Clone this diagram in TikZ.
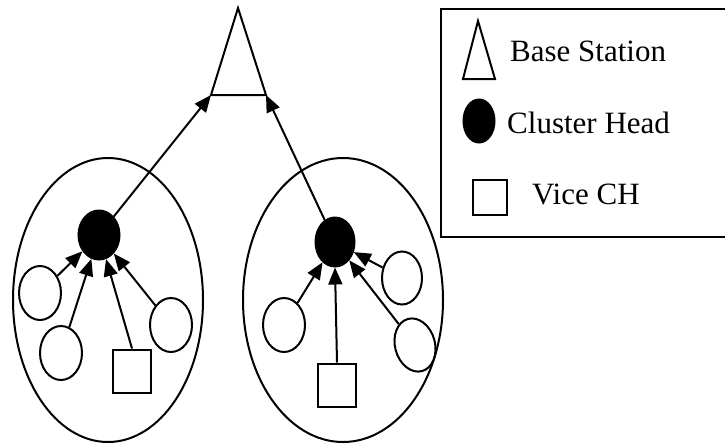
\documentclass[tikz,border=0pt]{standalone}
\usepackage{fontspec}
\setmainfont{Liberation Serif}
\usetikzlibrary{arrows.meta,shapes.geometric}
\begin{document}
\begin{tikzpicture}[x=1pt,y=-1pt,
  ln/.style={line width=2pt},
  arr/.style={ln,-{Triangle[length=17pt,width=14pt]}},
  cluster/.style={ln,draw,ellipse,inner sep=0pt},
  chnode/.style={draw,fill=black,ellipse,inner sep=0pt,line width=1pt},
  member/.style={ln,draw,ellipse,inner sep=0pt,minimum width=42pt,minimum height=54pt},
  vice/.style={ln,draw,rectangle,inner sep=0pt,minimum width=38pt,minimum height=43pt},
  lbl/.style={font=\fontsize{31}{33}\selectfont,anchor=west,inner sep=0pt}]
\useasboundingbox (0,0) rectangle (725,445);
% base station
\coordinate (bsL) at (211,95);
\coordinate (bsR) at (266,95);
\coordinate (bsT) at (238,8);
\draw[ln,line join=miter] (bsL) -- (bsT) -- (bsR) -- cycle;
% left cluster
\node[cluster,minimum width=190pt,minimum height=284pt] (c1) at (108,300) {};
\node[chnode,minimum width=42pt,minimum height=50pt] (h1) at (99,235) {};
\node[member] (a1) at (40,293) {};
\node[member] (a2) at (61,353) {};
\node[member] (a3) at (171,325) {};
\node[vice] (v1) at (132,371) {};
\draw[arr] (a1) -- (h1);
\draw[arr] (a2) -- (h1);
\draw[arr] (v1.north) -- (h1);
\draw[arr] (a3) -- (h1);
\draw[arr] (h1) -- (bsL);
% right cluster
\node[cluster,minimum width=200pt,minimum height=284pt] (c2) at (343,300) {};
\node[chnode,minimum width=40pt,minimum height=50pt] (h2) at (335,242) {};
\node[member] (b1) at (284,325) {};
\node[member,minimum width=40pt,minimum height=53pt] (b2) at (402,278) {};
\node[member,minimum width=40pt,minimum height=54pt,rotate=15] (b3) at (415,345) {};
\node[vice] (v2) at (337,385) {};
\draw[arr] (b1) -- (h2);
\draw[arr] (v2.north) -- (h2.south);
\draw[arr] (b3) -- (h2);
\draw[arr] (b2) -- (h2);
\draw[arr] (h2) -- (bsR);
% legend
\node[ln,draw,rectangle,inner sep=0pt,minimum width=288pt,minimum height=228pt,anchor=north west] (leg) at (440,8) {};
\coordinate (lgT) at (478,21);
\coordinate (lgL) at (463,79);
\coordinate (lgR) at (495,79);
\draw[ln,line join=miter] (lgL) -- (lgT) -- (lgR) -- cycle;
\node[lbl] (t1) at (510,51) {Base Station};
\node[chnode,minimum width=32pt,minimum height=44pt] (lch) at (479,121) {};
\node[lbl] (t2) at (507,123) {Cluster Head};
\node[ln,draw,rectangle,inner sep=0pt,minimum width=34pt,minimum height=35pt] (lsq) at (490,197) {};
\node[lbl] (t3) at (532,194) {Vice CH};
\end{tikzpicture}
\end{document}
